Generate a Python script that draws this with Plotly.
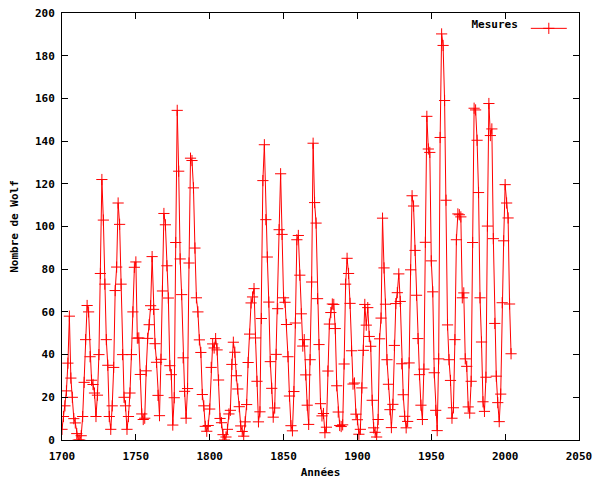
import plotly.graph_objects as go

years = list(range(1700, 2005))
wolf = [
    5, 11, 16, 23, 36, 58, 29, 20, 10, 8,
    3, 0, 0, 2, 11, 27, 47, 63, 60, 39,
    28, 26, 22, 11, 21, 40, 78, 122, 103, 73,
    47, 35, 11, 5, 16, 34, 70, 81, 111, 101,
    73, 40, 20, 16, 5, 11, 22, 40, 60, 80.9,
    83.4, 47.7, 47.8, 30.7, 12.2, 9.6, 10.2, 32.4, 47.6, 54.0,
    62.9, 85.9, 61.2, 45.1, 36.4, 20.9, 11.4, 37.8, 69.8, 106.1,
    100.8, 81.6, 66.5, 34.8, 30.6, 7.0, 19.8, 92.5, 154.4, 125.9,
    84.8, 68.1, 38.5, 22.8, 10.2, 24.1, 82.9, 132.0, 130.9, 118.1,
    89.9, 66.6, 60.0, 46.9, 41.0, 21.3, 16.0, 6.4, 4.1, 6.8,
    14.5, 34.0, 45.0, 43.1, 47.5, 42.2, 28.1, 10.1, 8.1, 2.5,
    0.0, 1.4, 5.0, 12.2, 13.9, 35.4, 45.8, 41.1, 30.1, 23.9,
    15.6, 6.6, 4.0, 1.8, 8.5, 16.6, 36.3, 49.6, 64.2, 67.0,
    70.9, 47.8, 27.5, 8.5, 13.2, 56.9, 121.5, 138.3, 103.2, 85.7,
    64.6, 36.7, 24.2, 10.7, 15.0, 40.1, 61.5, 98.5, 124.7, 96.3,
    66.6, 64.5, 54.1, 39.0, 20.6, 6.7, 4.3, 22.7, 54.8, 93.8,
    95.8, 77.2, 59.1, 44.0, 47.0, 30.5, 16.3, 7.3, 37.6, 74.0,
    139.0, 111.2, 101.6, 66.2, 44.7, 17.0, 11.3, 12.4, 3.4, 6.0,
    32.3, 54.3, 59.7, 63.7, 63.5, 52.2, 25.4, 13.1, 6.8, 6.3,
    7.1, 35.6, 73.0, 85.1, 78.0, 64.0, 41.8, 26.2, 26.7, 12.1,
    9.5, 2.7, 5.0, 24.4, 42.0, 63.5, 53.8, 62.0, 48.5, 43.9,
    18.6, 5.7, 3.6, 1.4, 9.6, 47.4, 57.1, 103.9, 80.6, 63.6,
    37.6, 26.1, 14.2, 5.8, 16.7, 44.3, 63.9, 69.0, 77.8, 64.9,
    35.7, 21.2, 11.1, 5.7, 8.7, 36.1, 79.7, 114.4, 109.6, 88.8,
    67.8, 47.5, 30.6, 16.3, 9.6, 33.2, 92.6, 151.6, 136.3, 134.7,
    83.9, 69.4, 31.5, 13.9, 4.4, 38.0, 141.7, 190.2, 184.8, 159.0,
    112.3, 53.9, 37.6, 27.9, 10.2, 15.1, 47.0, 93.8, 105.9, 105.5,
    104.5, 66.6, 68.9, 38.0, 34.5, 15.5, 12.6, 27.5, 92.5, 155.4,
    154.6, 140.4, 115.9, 66.6, 45.9, 17.9, 13.4, 29.4, 100.2, 157.6,
    142.6, 145.7, 94.3, 54.6, 29.9, 17.5, 8.6, 21.5, 64.3, 93.3,
    119.6, 111.0, 104.0, 63.7, 40.4,
]

x_ticks = [1700, 1750, 1800, 1850, 1900, 1950, 2000, 2050]
y_ticks = list(range(0, 201, 20))

font = dict(family="DejaVu Sans Mono", size=11, color="black", weight="bold")

fig = go.Figure()
fig.add_trace(go.Scatter(
    x=years, y=wolf, mode="lines+markers", name="",
    line=dict(color="#ff0000", width=1),
    marker=dict(symbol="cross-thin-open", size=8, line=dict(color="#ff0000", width=1)),
))

axis_common = dict(
    showgrid=False, zeroline=False, showline=True, linecolor="black", linewidth=1,
    ticks="inside", ticklen=6, tickcolor="black", mirror="ticks", tickfont=font,
    automargin=False,
)
fig.update_xaxes(range=[1700, 2050], tickvals=x_ticks, ticktext=[str(v) for v in x_ticks],
                 ticklabelstandoff=6,
                 title=dict(text="Années", font=font, standoff=6), **axis_common)
fig.update_yaxes(range=[0, 200], tickvals=y_ticks, ticktext=[str(v) for v in y_ticks],
                 ticklabelstandoff=4,
                 title=dict(text="Nombre de Wolf", font=font, standoff=14), **axis_common)

fig.update_layout(
    width=600, height=480, autosize=False,
    plot_bgcolor="white", paper_bgcolor="white",
    margin=dict(l=62, r=21, t=13, b=40),
    font=font,
    showlegend=True,
    legend=dict(x=0.997, y=0.998, xanchor="right", yanchor="top", bgcolor="rgba(0,0,0,0)",
                font=font, itemwidth=36,
                title=dict(text="Mesures", side="left", font=font)),
)
fig.write_html("out.html")
